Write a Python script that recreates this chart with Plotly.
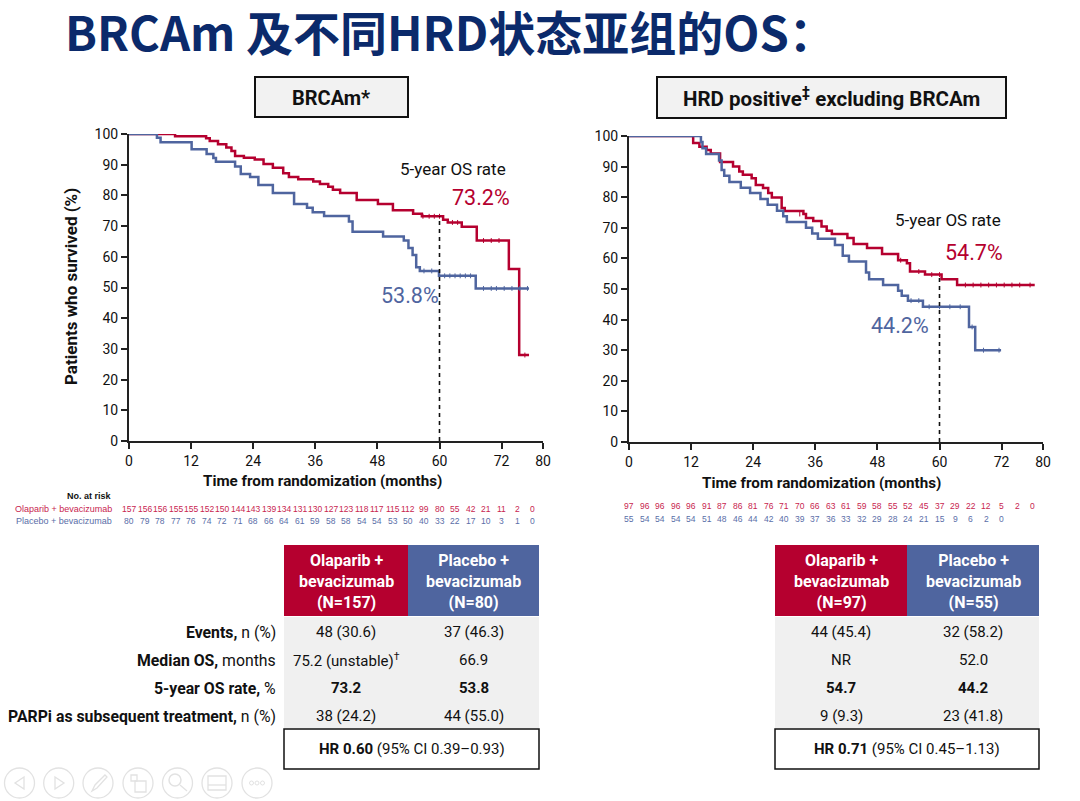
import plotly.graph_objects as go

W, H = 1080, 801
NARROW = "Roboto, Liberation Sans, sans-serif"
SANS = "Liberation Sans, Arial, sans-serif"
RED = "#B5002F"
BLUE = "#4F659F"
NAVY = "#0B2A6B"

# ---------- data ----------
brca_ola_x = [0, 8.9, 14.9, 15.6, 17.2, 18.8, 19.8, 20.5, 22.2, 24.3, 26, 27.8, 29.8, 30.9, 32.7, 35.6, 36.9, 38.5, 39.4, 40.8, 44, 48.1, 51, 54.9, 56.6, 60.7, 61.6, 64.3, 67.2, 73.4, 75.4, 77.3]
brca_ola_y = [100, 99.3, 98.6, 97.7, 96.7, 95.6, 94.5, 92.8, 92.3, 91.7, 90.2, 89, 87.2, 86, 85.3, 84.5, 83.7, 82.8, 81.8, 80.8, 78.5, 77.2, 75.2, 74, 73.2, 72.1, 71.2, 69.8, 65.3, 56, 28, 28]
brca_pla_x = [0, 5.4, 6.1, 12.1, 15, 16.3, 16.8, 20.5, 21.6, 23.4, 25, 27.8, 31.9, 34.4, 35.5, 37.7, 42.5, 43.2, 49.1, 53.1, 54, 54.8, 55.5, 56.2, 59.9, 67, 77.3]
brca_pla_y = [100, 98.8, 97.3, 95, 93.5, 92.2, 91, 89.4, 87, 86, 83.4, 80.8, 77.2, 76, 74.5, 73.3, 71.5, 68.2, 66.6, 65.3, 62.9, 60.6, 56.6, 55.4, 53.8, 49.7, 49.7]
hrd_ola_x = [0, 12.4, 13.6, 15, 15.8, 17.6, 20.1, 21.3, 22, 23.7, 24.5, 25.9, 26.9, 27.6, 29.5, 30.1, 33.7, 34.2, 35.6, 37.2, 38.2, 39.2, 42.2, 43.4, 46, 48.9, 52, 53.7, 54.3, 57.2, 60.4, 63.4, 78.4]
hrd_ola_y = [100, 97.7, 96.5, 95.4, 94.3, 91.5, 90, 88.4, 87.3, 86.2, 84, 83, 81.4, 79.9, 76.5, 75.5, 74.5, 73.2, 72.2, 70.4, 69, 68, 66.7, 64.7, 63.4, 61.4, 59.4, 58.4, 55.7, 54.7, 53.2, 51.3, 51.3]
hrd_pla_x = [0, 13.9, 14.2, 14.9, 17.4, 17.9, 18.4, 19.4, 21.6, 23.4, 25.4, 26.8, 28.6, 29.8, 30.5, 34.2, 35.4, 36.5, 39.8, 41.3, 42.5, 45.8, 46.4, 49.1, 52, 52.7, 53.9, 56.8, 65.7, 66.9, 71.9]
hrd_pla_y = [100, 98, 96, 94.1, 92, 88.9, 87, 85, 83.1, 81.4, 79.4, 77.5, 75.6, 73.8, 71.9, 70, 68.1, 66.4, 64.4, 60.9, 59, 55.4, 53.2, 51.3, 49.4, 47.8, 46.2, 44.2, 37.6, 30, 30]

brca_ola_cens = [56.8, 58, 59, 60, 62.5, 63.5, 68.5, 70, 71.5, 76.5]
brca_ola_cens_y = [73.2, 73.2, 73.2, 73.2, 71.2, 71.2, 65.3, 65.3, 65.3, 28]
brca_pla_cens = [57, 58.5, 61, 62, 63, 64, 65, 66, 68.5, 70, 71, 72.5, 74, 75.5, 77]
brca_pla_cens_y = [55.4, 55.4, 53.8, 53.8, 53.8, 53.8, 53.8, 53.8, 49.7, 49.7, 49.7, 49.7, 49.7, 49.7, 49.7]
hrd_ola_cens = [33, 52.5, 56, 58.5, 60, 65, 66.5, 68, 69.5, 71, 72.5, 74, 75.5, 77.5]
hrd_ola_cens_y = [74.5, 59.4, 55.7, 54.7, 54.7, 51.3, 51.3, 51.3, 51.3, 51.3, 51.3, 51.3, 51.3, 51.3]
hrd_pla_cens = [54.5, 56, 58, 60, 62, 64, 66.3, 68.5, 71.5]
hrd_pla_cens_y = [46.2, 46.2, 44.2, 44.2, 44.2, 44.2, 37.6, 30, 30]

risk_months = [i * 3 for i in range(27)]
brca_ola_risk = [157, 156, 156, 155, 155, 152, 150, 144, 143, 139, 134, 131, 130, 127, 123, 118, 117, 115, 112, 99, 80, 55, 42, 21, 11, 2, 0]
brca_pla_risk = [80, 79, 78, 77, 76, 74, 72, 71, 68, 66, 64, 61, 59, 58, 58, 54, 54, 53, 50, 40, 33, 22, 17, 10, 3, 1, 0]
hrd_ola_risk = [97, 96, 96, 96, 96, 91, 87, 86, 81, 76, 71, 70, 66, 63, 61, 59, 58, 55, 52, 45, 37, 29, 22, 12, 5, 2, 0]
hrd_pla_risk = [55, 54, 54, 54, 54, 51, 48, 46, 44, 42, 40, 39, 37, 36, 33, 32, 29, 28, 24, 21, 15, 9, 6, 2, 0]

x_ticks = [0, 12, 24, 36, 48, 60, 72, 80]
y_ticks = list(range(0, 101, 10))

row_labels = ["<b>Events,</b> n (%)", "<b>Median OS,</b> months", "<b>5-year OS rate,</b> %", "<b>PARPi as subsequent treatment,</b> n (%)"]
brca_col1 = ["48 (30.6)", "75.2 (unstable)<sup>†</sup>", "<b>73.2</b>", "38 (24.2)"]
brca_col2 = ["37 (46.3)", "66.9", "<b>53.8</b>", "44 (55.0)"]
hrd_col1 = ["44 (45.4)", "NR", "<b>54.7</b>", "9 (9.3)"]
hrd_col2 = ["32 (58.2)", "52.0", "<b>44.2</b>", "23 (41.8)"]


def px(x):
    return x / W


def py(y):
    return 1 - y / H


fig = go.Figure()
shapes, notes = [], []


def text(x, y, s, size, color="#111", font=NARROW, anchor="center", **kw):
    notes.append(dict(x=px(x), y=py(y), xref="paper", yref="paper", text=s, showarrow=False,
                      xanchor=anchor, yanchor="middle", align=anchor if anchor != "center" else "center",
                      font=dict(size=size, color=color, family=font), **kw))


def rect(x0, y0, x1, y1, fill=None, line=None, width=0):
    shapes.append(dict(type="rect", xref="paper", yref="paper", x0=px(x0), x1=px(x1), y0=py(y0), y1=py(y1),
                       fillcolor=fill or "rgba(0,0,0,0)", line=dict(color=line or "rgba(0,0,0,0)", width=width), layer="below"))


def panel(ax, x0, x1, ytop, ybot, curves, cens, pct):
    xa, ya = ("xaxis", "yaxis") if ax == 1 else ("xaxis2", "yaxis2")
    xr, yr = ("x", "y") if ax == 1 else ("x2", "y2")
    common = dict(showline=True, linecolor="#222", linewidth=2, ticks="outside", ticklen=6, tickwidth=1.6,
                  tickcolor="#222", showgrid=False, zeroline=False, automargin=False,
                  tickfont=dict(family=NARROW, size=14, color="#111"))
    fig.update_layout({
        xa: dict(domain=[px(x0), px(x1)], range=[0, 80], tickvals=x_ticks, anchor=yr, **common),
        ya: dict(domain=[py(ybot), py(ytop)], range=[0, 100], tickvals=y_ticks, anchor=xr, **common),
    })
    for (cx, cy), color in zip(curves, (RED, BLUE)):
        fig.add_trace(go.Scatter(x=cx, y=cy, mode="lines", xaxis=xr, yaxis=yr, cliponaxis=False,
                                 line=dict(color=color, width=2.5, shape="hv"), showlegend=False, hoverinfo="skip"))
    for (cx, cy), color in zip(cens, (RED, BLUE)):
        fig.add_trace(go.Scatter(x=cx, y=cy, mode="markers", xaxis=xr, yaxis=yr, cliponaxis=False,
                                 marker=dict(symbol="line-ns", size=3.5, line=dict(color=color, width=1)),
                                 showlegend=False, hoverinfo="skip"))
    shapes.append(dict(type="line", xref=xr, yref=yr, x0=60, x1=60, y0=0, y1=pct,
                       line=dict(color="#111", width=1.6, dash="4px,4px")))


panel(1, 129, 543, 134, 441,
      [(brca_ola_x, brca_ola_y), (brca_pla_x, brca_pla_y)],
      [(brca_ola_cens, brca_ola_cens_y), (brca_pla_cens, brca_pla_cens_y)], 73.2)
panel(2, 629, 1043, 136, 442,
      [(hrd_ola_x, hrd_ola_y), (hrd_pla_x, hrd_pla_y)],
      [(hrd_ola_cens, hrd_ola_cens_y), (hrd_pla_cens, hrd_pla_cens_y)], 54.7)

# title and panel headers
text(63, 31, "<b>BRCAm 及不同HRD状态亚组的OS：</b>", 47, NAVY, "Noto Sans CJK SC, Noto Sans, sans-serif", "left")
rect(255, 77, 408, 117, "#F2F2F2", "#111", 2)
rect(657, 77, 1006, 118, "#F2F2F2", "#111", 2)
text(331, 98, "<b>BRCAm*</b>", 20)
text(831, 98, "<b>HRD positive<sup>‡</sup> excluding BRCAm</b>", 20.5)
text(71, 287, "<b>Patients who survived (%)</b>", 17, textangle=-90)
text(322, 481, "<b>Time from randomization (months)</b>", 15.2)
text(821, 483, "<b>Time from randomization (months)</b>", 15.2)

# callouts
text(453, 169, "5-year OS rate", 17)
text(481, 198, "73.2%", 21.5, RED)
text(410, 295, "53.8%", 21.5, BLUE)
text(948, 220, "5-year OS rate", 17)
text(974, 252, "54.7%", 21.5, RED)
text(900, 325, "44.2%", 21.5, BLUE)

# at-risk rows
text(114, 496, "<b>No. at risk</b>", 9, "#111", SANS, "right")
text(114, 509, "Olaparib + bevacizumab", 9, "#C8254F", SANS, "right")
text(114, 521, "Placebo + bevacizumab", 9, "#5A6EA8", SANS, "right")


def risk_row(xref, values, y, color):
    for m, v in zip(risk_months, values):
        notes.append(dict(x=m, y=py(y), xref=xref, yref="paper", text=str(v), showarrow=False, xanchor="center",
                          yanchor="middle", font=dict(size=8.5, color=color, family=SANS)))


risk_row("x", brca_ola_risk, 509, "#C8254F")
risk_row("x", brca_pla_risk, 521, "#5A6EA8")
risk_row("x2", hrd_ola_risk, 506, "#C8254F")
risk_row("x2", hrd_pla_risk, 519, "#5A6EA8")

# tables
row_ys = [632, 660, 688, 716]


def table(x0, xm, x1, n1, n2, col1, col2, hr):
    rect(x0, 545, xm, 616, RED)
    rect(xm, 545, x1, 616, BLUE)
    rect(x0, 617, x1, 728, "#F0F0F0")
    rect(x0, 729, x1, 769, "#FFFFFF", "#111", 1.5)
    c1, c2 = (x0 + xm) / 2, (xm + x1) / 2
    text(c1, 581, f"<b>Olaparib +<br>bevacizumab<br>(N={n1})</b>", 16, "#FFFFFF")
    text(c2, 581, f"<b>Placebo +<br>bevacizumab<br>(N={n2})</b>", 16, "#FFFFFF")
    for y, a, b in zip(row_ys, col1, col2):
        text(c1, y, a, 15)
        text(c2, y, b, 15)
    text((x0 + x1) / 2, 749, hr, 15)


table(284, 408, 539, 157, 80, brca_col1, brca_col2, "<b>HR 0.60</b> (95% CI 0.39–0.93)")
table(775, 907, 1039, 97, 55, hrd_col1, hrd_col2, "<b>HR 0.71</b> (95% CI 0.45–1.13)")
for y, lab in zip(row_ys, row_labels):
    text(278, y, lab, 15.8, anchor="right")

# faint slide-show toolbar
GREY = "#E2E2E2"
for cx in (19.5, 58.7, 98, 138, 177.5, 217, 257):
    shapes.append(dict(type="circle", xref="paper", yref="paper", x0=px(cx - 15), x1=px(cx + 15), y0=py(798), y1=py(768),
                       line=dict(color=GREY, width=1.3)))


def path(d_pts, closed=True):
    d = "M " + " L ".join(f"{px(a):.5f} {py(b):.5f}" for a, b in d_pts) + (" Z" if closed else "")
    shapes.append(dict(type="path", xref="paper", yref="paper", path=d, line=dict(color=GREY, width=1.3)))


path([(24, 777), (15, 783), (24, 789)])
path([(55, 777), (64, 783), (55, 789)])
path([(92, 791), (95, 785), (105, 775), (107, 777), (97, 788)])
path([(131, 775), (137, 775), (137, 781), (131, 781)])
path([(135, 781), (146, 781), (146, 792), (135, 792)])
shapes.append(dict(type="circle", xref="paper", yref="paper", x0=px(169), x1=px(181), y0=py(786), y1=py(774), line=dict(color=GREY, width=1.5)))
path([(180, 785), (187, 791)], closed=False)
path([(208, 776), (226, 776), (226, 790), (208, 790)])
path([(208, 785), (226, 785)], closed=False)
for cx in (251.5, 257, 262.5):
    shapes.append(dict(type="circle", xref="paper", yref="paper", x0=px(cx - 2), x1=px(cx + 2), y0=py(785), y1=py(781), line=dict(color=GREY, width=1)))

fig.update_layout(width=W, height=H, margin=dict(l=0, r=0, t=0, b=0, autoexpand=False), paper_bgcolor="white", plot_bgcolor="white",
                  shapes=shapes, annotations=notes, showlegend=False)
fig.write_html("out.html", config=dict(displayModeBar=False),
               post_script="document.documentElement.style.margin='0';document.body.style.margin='0';document.body.style.overflow='hidden';")
